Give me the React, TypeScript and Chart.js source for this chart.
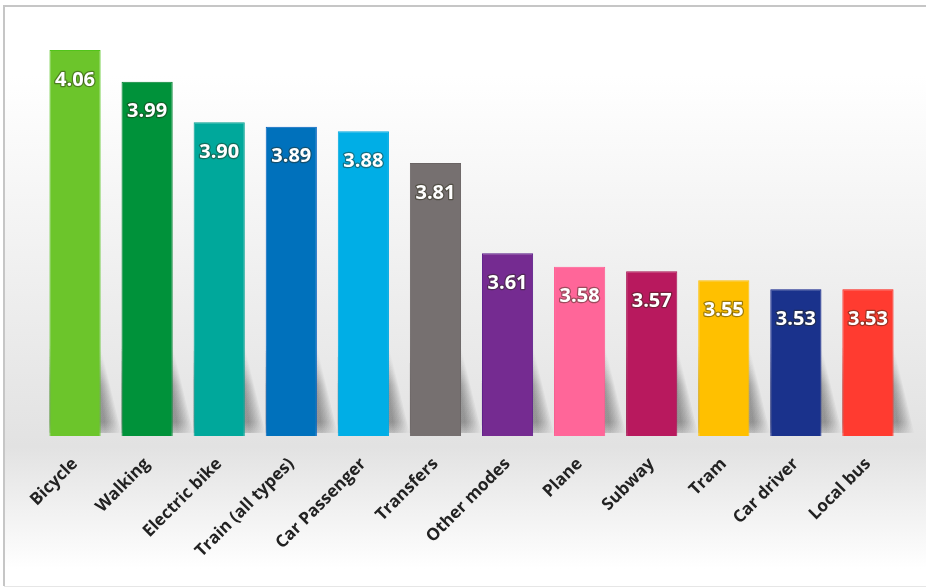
import React, { useEffect, useRef } from "react";
import { Chart, registerables } from "chart.js";

Chart.register(...registerables);

const categories = [
  "Bicycle",
  "Walking",
  "Electric bike",
  "Train (all types)",
  "Car Passenger",
  "Transfers",
  "Other modes",
  "Plane",
  "Subway",
  "Tram",
  "Car driver",
  "Local bus",
];

const values = [4.06, 3.99, 3.9, 3.89, 3.88, 3.81, 3.61, 3.58, 3.57, 3.55, 3.53, 3.53];

const barColors = [
  "#6cc52b",
  "#00923a",
  "#00a89b",
  "#0071bc",
  "#00aee6",
  "#767070",
  "#752b91",
  "#ff6699",
  "#b8195e",
  "#ffc000",
  "#1a328c",
  "#ff3b30",
];

const borderColors = [
  "#52c41a",
  "#008030",
  "#00a090",
  "#0060c0",
  "#00a8e0",
  "#6a6464",
  "#5a1a88",
  "#ff5a90",
  "#a81050",
  "#ffc000",
  "#0c1e88",
  "#ff1a10",
];

const BAR_PCT = 0.71;

function drawShadows(chart: any) {
  const { ctx, chartArea } = chart;
  const xs = chart.scales.x;
  const n = categories.length;
  const cat = (chartArea.right - chartArea.left) / n;
  const w = cat * BAR_PCT;
  const b = chartArea.bottom;
  ctx.save();
  const g = ctx.createLinearGradient(0, b - 92, 0, b);
  g.addColorStop(0, "rgba(0,0,0,0)");
  g.addColorStop(0.45, "rgba(0,0,0,0.04)");
  g.addColorStop(0.85, "rgba(0,0,0,0.045)");
  g.addColorStop(1, "rgba(0,0,0,0.01)");
  ctx.fillStyle = g;
  for (let i = 0; i < n; i++) {
    const cx = xs.getPixelForValue(i);
    const x1 = cx - w / 2;
    const x2 = cx + w / 2;
    for (let k = 9; k >= 0; k--) {
      ctx.beginPath();
      ctx.moveTo(x1, b - 92);
      ctx.lineTo(x2 - 6 + k * 0.6, b - 92);
      ctx.lineTo(x2 + 6 + k * 1.6, b - 3);
      ctx.lineTo(x1, b - 3);
      ctx.closePath();
      ctx.fill();
    }
  }
  ctx.restore();
}

const backgroundPlugin = {
  id: "bgFrame",
  beforeDraw(chart: any) {
    const { ctx, width, height } = chart;
    ctx.save();
    ctx.fillStyle = "#ffffff";
    ctx.fillRect(0, 0, width, height);
    const g = ctx.createLinearGradient(0, 6, 0, 586);
    g.addColorStop(0, "#ffffff");
    g.addColorStop(0.12, "#ffffff");
    g.addColorStop(0.76, "#e2e2e2");
    g.addColorStop(0.97, "#ffffff");
    ctx.fillStyle = g;
    ctx.fillRect(4, 6, width - 4, 580);
    ctx.strokeStyle = "#c6c6c6";
    ctx.lineWidth = 2;
    ctx.beginPath();
    ctx.moveTo(4, 586);
    ctx.lineTo(4, 6);
    ctx.lineTo(width, 6);
    ctx.stroke();
    ctx.strokeStyle = "#e6e6e6";
    ctx.lineWidth = 1;
    ctx.beginPath();
    ctx.moveTo(4, 586.5);
    ctx.lineTo(width, 586.5);
    ctx.stroke();
    ctx.restore();
    drawShadows(chart);
  },
  afterDatasetsDraw(chart: any) {
    const { ctx } = chart;
    const meta = chart.getDatasetMeta(0);
    ctx.save();
    ctx.font = "bold 20px 'Open Sans', sans-serif";
    ctx.textAlign = "center";
    ctx.textBaseline = "middle";
    meta.data.forEach((bar: any, i: number) => {
      const label = values[i].toFixed(2);
      const y = bar.y + 30;
      ctx.lineJoin = "round";
      ctx.lineWidth = 2.5;
      ctx.strokeStyle = "rgba(40,40,20,0.45)";
      ctx.strokeText(label, bar.x, y);
      ctx.fillStyle = "#ffffff";
      ctx.fillText(label, bar.x, y);
    });
    ctx.restore();
  },
};

export default function App() {
  const ref = useRef<HTMLCanvasElement | null>(null);

  useEffect(() => {
    document.body.style.margin = "0";
    if (!ref.current) return;
    const chart = new Chart(ref.current, {
      type: "bar",
      data: {
        labels: categories,
        datasets: [
          {
            data: values,
            backgroundColor: barColors,
            borderColor: borderColors,
            borderWidth: 1,
            barPercentage: BAR_PCT,
            categoryPercentage: 1,
          },
        ],
      },
      options: {
        animation: false,
        responsive: false,
        maintainAspectRatio: false,
        layout: { padding: { left: 39, right: 22, top: 32, bottom: 0 } },
        plugins: {
          legend: { display: false },
          tooltip: { enabled: false },
        },
        scales: {
          x: {
            grid: { display: false },
            border: { display: false },
            afterFit: (scale: any) => {
              scale.height = 152;
            },
            ticks: {
              autoSkip: false,
              maxRotation: 45,
              minRotation: 45,
              padding: 10,
              color: "#222222",
              font: { family: "'Open Sans', sans-serif", size: 17, weight: 700 },
            },
          },
          y: {
            display: false,
            min: 3.205,
            max: 4.1,
          },
        },
      },
      plugins: [backgroundPlugin],
    });
    return () => chart.destroy();
  }, []);

  return (
    <div style={{ width: 926, height: 588 }}>
      <canvas ref={ref} width={926} height={588} style={{ display: "block" }} />
    </div>
  );
}
